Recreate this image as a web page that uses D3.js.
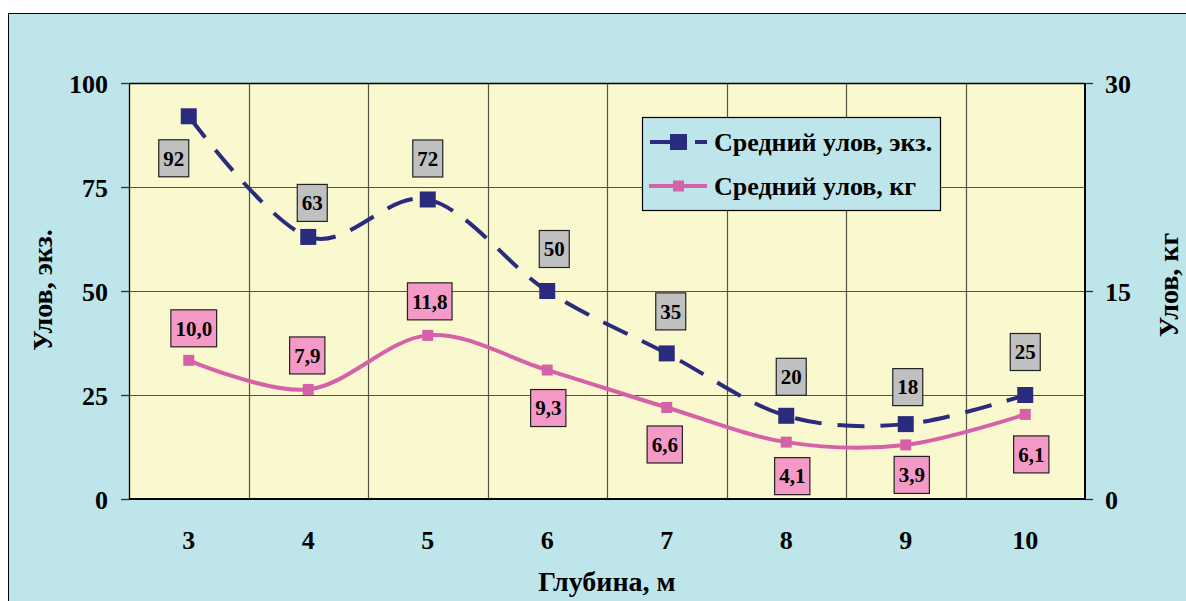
<!DOCTYPE html>
<html><head><meta charset="utf-8">
<script src="https://cdn.jsdelivr.net/npm/d3@7"></script>
<style>
html,body{margin:0;padding:0;background:#fff;}
svg{display:block;}
</style></head>
<body>
<script>
// ---- data ----
const categories = ["3","4","5","6","7","8","9","10"];
const catchCount = [92, 63, 72, 50, 35, 20, 18, 25];
const catchKg = [10.0, 7.9, 11.8, 9.3, 6.6, 4.1, 3.9, 6.1];
const leftTicks = [0, 25, 50, 75, 100];
const rightTicks = [0, 15, 30];
const seriesNames = ["Средний улов, экз.", "Средний улов, кг"];

// ---- layout (pixel offsets of data labels relative to their point) ----
const countLabelOffsets = [[-15,42],[4,-34],[0,-41],[7,-42],[4,-42],[5,-39],[2,-37],[0,-43]];
const kgLabelOffsets = [[5,-32],[-1,-34],[2,-34],[1,38],[-2,37],[6,34],[6,30],[6,40]];

const FONT = '"Liberation Serif", "Times New Roman", serif';
const W = 1186, H = 601;
const svg = d3.select("body").append("svg").attr("width", W).attr("height", H);

function styleText(sel, size) {
  return sel.style("font-family", FONT).style("font-weight", "bold").style("font-size", size + "px").attr("fill", "#000");
}

// outer background
svg.append("rect").attr("x", 8.5).attr("y", 13.5).attr("width", W).attr("height", H)
  .attr("fill", "#BDE5EA").attr("stroke", "#000").attr("stroke-width", 1);

const L = 129, R = 1085, T = 83, B = 499;
const x = d3.scaleBand().domain(categories).range([L, R]);
const yL = d3.scaleLinear().domain([0, 100]).range([B, T]);
const yR = d3.scaleLinear().domain([0, 30]).range([B, T]);

// plot area
svg.append("rect").attr("x", L).attr("y", T).attr("width", R - L).attr("height", B - T)
  .attr("fill", "#FAF8CE");

// gridlines
const grid = svg.append("g");
leftTicks.forEach(t => {
  grid.append("line").attr("x1", L).attr("x2", R).attr("y1", Math.round(yL(t)) + 0.5).attr("y2", Math.round(yL(t)) + 0.5)
    .attr("stroke", "#555544").attr("stroke-width", 1.2);
});
categories.slice(1).forEach(c => {
  const xx = Math.round(x(c)) + 0.5;
  grid.append("line").attr("x1", xx).attr("x2", xx).attr("y1", T).attr("y2", B)
    .attr("stroke", "#555544").attr("stroke-width", 1.2);
});

// axes
const axL = svg.append("g").attr("transform", `translate(${L},0)`)
  .call(d3.axisLeft(yL).tickValues(leftTicks).tickSize(8).tickPadding(13));
const axR = svg.append("g").attr("transform", `translate(${R},0)`)
  .call(d3.axisRight(yR).tickValues(rightTicks).tickSize(8).tickPadding(12));
const axB = svg.append("g").attr("transform", `translate(0,${B})`)
  .call(d3.axisBottom(x).tickSize(0).tickPadding(32));
[axL, axR, axB].forEach(a => {
  a.attr("font-family", null).attr("font-size", null);
  styleText(a.selectAll("text"), 26);
  a.selectAll("line").attr("stroke", "#333").attr("stroke-width", 1.3);
  a.select(".domain").remove();
});
axL.selectAll("text").attr("dy", "0.35em");
axR.selectAll("text").attr("dy", "0.35em");
axB.selectAll("text").attr("dy", "0.71em");

// plot border
svg.append("line").attr("x1", L + 0.5).attr("x2", L + 0.5).attr("y1", T).attr("y2", B).attr("stroke", "#000").attr("stroke-width", 1.3);
svg.append("line").attr("x1", L).attr("x2", R).attr("y1", T + 0.5).attr("y2", T + 0.5).attr("stroke", "#000").attr("stroke-width", 1.3);
svg.append("line").attr("x1", R).attr("x2", R).attr("y1", T).attr("y2", B + 1).attr("stroke", "#000").attr("stroke-width", 2);
svg.append("line").attr("x1", L).attr("x2", R + 1).attr("y1", B).attr("y2", B).attr("stroke", "#000").attr("stroke-width", 2);

const cx = c => x(c) + x.bandwidth() / 2;
const navy = "#2B2B7E", pink = "#D562A8";

// kg series
const lineKg = d3.line().x((d, i) => cx(categories[i])).y(d => yR(d)).curve(d3.curveCatmullRom.alpha(0));
svg.append("path").attr("d", lineKg(catchKg)).attr("fill", "none").attr("stroke", pink).attr("stroke-width", 4);
svg.selectAll(".mk").data(catchKg).enter().append("rect")
  .attr("x", (d, i) => cx(categories[i]) - 5.5).attr("y", d => yR(d) - 5.5)
  .attr("width", 11).attr("height", 11).attr("fill", pink);

// count series
const lineCnt = d3.line().x((d, i) => cx(categories[i])).y(d => yL(d)).curve(d3.curveCatmullRom.alpha(0));
svg.append("path").attr("d", lineCnt(catchCount)).attr("fill", "none").attr("stroke", navy)
  .attr("stroke-width", 4).attr("stroke-dasharray", "27,16");
svg.selectAll(".mc").data(catchCount).enter().append("rect")
  .attr("x", (d, i) => cx(categories[i]) - 8).attr("y", d => yL(d) - 8)
  .attr("width", 16).attr("height", 16).attr("fill", navy);

// data labels
function drawLabel(px, py, txt, fill) {
  const g = svg.append("g");
  const t = styleText(g.append("text"), 21).attr("x", px).attr("y", py).attr("text-anchor", "middle").attr("dy", "0.35em")
    .text(txt);
  const bb = t.node().getBBox();
  const w = bb.width + 9, h = 37;
  g.insert("rect", "text").attr("x", px - w / 2).attr("y", py - h / 2).attr("width", w).attr("height", h)
    .attr("fill", fill).attr("stroke", "#222").attr("stroke-width", 1.2);
}
catchCount.forEach((v, i) => {
  const o = countLabelOffsets[i];
  drawLabel(cx(categories[i]) + o[0], yL(v) + o[1], String(v), "#C0C0C0");
});
catchKg.forEach((v, i) => {
  const o = kgLabelOffsets[i];
  drawLabel(cx(categories[i]) + o[0], yR(v) + o[1], v.toFixed(1).replace(".", ","), "#F59AC6");
});

// legend
const lg = svg.append("g");
lg.append("rect").attr("x", 642.5).attr("y", 117.5).attr("width", 298).attr("height", 93)
  .attr("fill", "#BDE5EA").attr("stroke", "#000").attr("stroke-width", 1.2);
lg.append("line").attr("x1", 650).attr("x2", 707).attr("y1", 142).attr("y2", 142)
  .attr("stroke", navy).attr("stroke-width", 4).attr("stroke-dasharray", "37,8,12,20");
lg.append("rect").attr("x", 670).attr("y", 134).attr("width", 17).attr("height", 16).attr("fill", navy);
lg.append("line").attr("x1", 649).attr("x2", 707).attr("y1", 186).attr("y2", 186)
  .attr("stroke", pink).attr("stroke-width", 4);
lg.append("rect").attr("x", 673).attr("y", 180.5).attr("width", 11).attr("height", 11).attr("fill", pink);
styleText(lg.append("text"), 26).attr("x", 714).attr("y", 142).attr("dy", "0.35em").text(seriesNames[0]);
styleText(lg.append("text"), 26).attr("x", 714).attr("y", 186).attr("dy", "0.35em").text(seriesNames[1]);

// axis titles
styleText(svg.append("text"), 28).attr("transform", `translate(52,290) rotate(-90)`).attr("text-anchor", "middle")
  .text("Улов, экз.");
styleText(svg.append("text"), 28).attr("transform", `translate(1178,285) rotate(-90)`).attr("text-anchor", "middle")
  .text("Улов, кг");
styleText(svg.append("text"), 28).attr("x", (L + R) / 2).attr("y", 591).attr("text-anchor", "middle")
  .text("Глубина, м");
</script>
</body></html>
